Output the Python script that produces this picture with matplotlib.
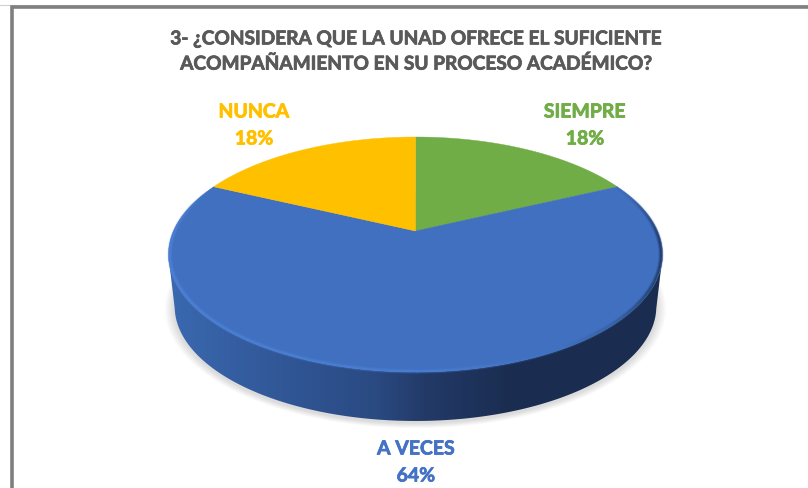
#!/usr/bin/env python3
"""Perspective 3D pie: acompanamiento de la UNAD."""

import matplotlib

matplotlib.use("Agg")
import matplotlib.patheffects as pe
import matplotlib.pyplot as plt
import numpy as np
from matplotlib.collections import LineCollection
from matplotlib.colors import LinearSegmentedColormap
from matplotlib.patches import Polygon

TITLE = "3- ¿CONSIDERA QUE LA UNAD OFRECE EL SUFICIENTE\nACOMPAÑAMIENTO EN SU PROCESO ACADÉMICO?"
CATEGORIES = ["SIEMPRE", "A VECES", "NUNCA"]
VALUES = [18, 64, 18]
COLORS = ["#70ad47", "#4070bf", "#ffc000"]
LABEL_COLORS = ["#70ad47", "#4472c4", "#ffc000"]

WIDTH, HEIGHT = 808, 488
APEX = (415.5, 231.0)
RADIUS = 242.0
SCALE_Y = 112.8
PERSPECTIVE = 0.2
DEPTH_OFFSET = 52.5
BOTTOM_SCALE = 0.975


def project(turn, scale=1.0, dy=0.0):
    """Map clockwise fractions of a turn (0 = top) onto the tilted disc."""
    a = 2 * np.pi * np.asarray(turn)
    x, y = np.sin(a), np.cos(a)
    w = 1 + PERSPECTIVE * y
    return APEX[0] + scale * RADIUS * x / w, APEX[1] - scale * SCALE_Y * y / w + dy


def rim_segments(t0, t1, scale, n=400):
    px, py = project(np.linspace(t0, t1, n), scale)
    pts = np.column_stack([px, py])
    return np.stack([pts[:-1], pts[1:]], axis=1), 0.5 * (px[:-1] + px[1:])


def bold_text(x, y, s, size, color, **kw):
    t = ax.text(x, y, s, ha="center", va="center", fontsize=size, fontweight="bold",
                color=color, zorder=6, **kw)
    t.set_path_effects([pe.withStroke(linewidth=0.55, foreground=color)])
    return t


plt.rcParams["font.family"] = ["Lato", "DejaVu Sans"]
fig = plt.figure(figsize=(WIDTH / 100, HEIGHT / 100), dpi=100)
ax = fig.add_axes([0, 0, 1, 1])
ax.set_xlim(0, WIDTH)
ax.set_ylim(HEIGHT, 0)
ax.axis("off")

# frame: only the top and left sides show in the crop
ax.plot([0, WIDTH], [4.5, 4.5], color="#d0d0d0", lw=0.8, zorder=1)
ax.plot([11.5, 11.5, WIDTH], [HEIGHT, 6.8, 6.8], color="#7f7f7f", lw=2.6,
        solid_joinstyle="miter", zorder=1)

full = np.linspace(0, 1, 720)

# soft shadow under the disc
bx, by = project(full, BOTTOM_SCALE, DEPTH_OFFSET)
cx, cy = bx.mean(), by.mean()
for k in range(12):
    grow = 1 + (12 - k) * 0.0034
    ax.add_patch(Polygon(np.column_stack([cx + (bx - cx) * grow, cy + 2 + (by - cy) * grow]),
                         fc="#808080", ec="none", alpha=0.025, zorder=2))

# side wall: top rim in front, then the bottom outline back again
front = np.linspace(0.285, 0.715, 400)
tx, ty = project(front)
bfx, bfy = project(front[::-1], BOTTOM_SCALE, DEPTH_OFFSET)
wall = Polygon(np.column_stack([np.r_[tx, bfx], np.r_[ty, bfy]]), fc="none", ec="none", zorder=3)
ax.add_patch(wall)
wall_cmap = LinearSegmentedColormap.from_list(
    "wall", [(0.0, "#3a69b0"), (0.2, "#32599a"), (0.42, "#2a4a82"), (0.52, "#233a68"),
             (0.68, "#1b2e52"), (1.0, "#1a2c4f")])
grad = ax.imshow(np.linspace(0, 1, 512)[None, :], extent=(168, 663, 430, 250), cmap=wall_cmap,
                 aspect="auto", zorder=3)
grad.set_clip_path(wall)
ax.set_xlim(0, WIDTH)
ax.set_ylim(HEIGHT, 0)

# top surface, one wedge per category, clockwise from twelve o'clock
edges = np.r_[0, np.cumsum(VALUES)] / np.sum(VALUES)
for start, stop, color in zip(edges[:-1], edges[1:], COLORS):
    px, py = project(np.linspace(start, stop, 300))
    ax.add_patch(Polygon(np.column_stack([np.r_[APEX[0], px], np.r_[APEX[1], py]]),
                         fc=color, ec=color, lw=0.3, zorder=4))

# bevel along the blue rim, bright on the left and dark only at the far right
rim_cmap = LinearSegmentedColormap.from_list(
    "rim", [(0.0, "#4f84dc"), (0.55, "#4a7fd6"), (0.8, "#4070bf"), (0.9, "#35609f"), (1.0, "#1c3058")])
t0, t1 = edges[1], edges[2]
segs, mids = rim_segments(t0, t1, 0.994)
shade = rim_cmap(np.clip((mids - 168) / 495, 0, 1))
# fade the bevel out towards both slice corners
ramp = np.minimum(np.linspace(0, 1, len(segs)), np.linspace(1, 0, len(segs)))
ramp = np.clip(ramp * 8, 0, 1)
for lw, alpha in [(3.6, 0.2), (2.4, 0.35), (1.2, 0.6)]:
    colors = shade.copy()
    colors[:, 3] = alpha * ramp
    ax.add_collection(LineCollection(segs, colors=colors, linewidths=lw, capstyle="butt", zorder=5))

bold_text(416, 51.5, TITLE, 13.75, "#595959", linespacing=1.48)

# data labels sit outside the slices
label_pos = [(585, 112, 139), (416, 449, 476), (254, 112, 139)]
for name, val, color, (lx, ly1, ly2) in zip(CATEGORIES, VALUES, LABEL_COLORS, label_pos):
    bold_text(lx, ly1, name, 14, color)
    bold_text(lx, ly2, f"{val}%", 14, color)

fig.savefig("out.png", dpi=100, facecolor="white")
plt.close(fig)
